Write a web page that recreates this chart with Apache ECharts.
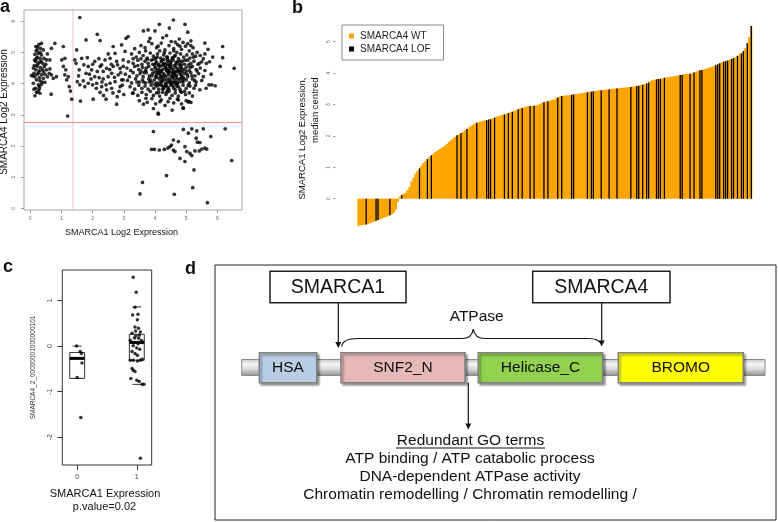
<!DOCTYPE html>
<html>
<head>
<meta charset="utf-8">
<script src="https://cdn.jsdelivr.net/npm/echarts@6/dist/echarts.min.js"></script>
<style>
html,body{margin:0;padding:0;background:#fff;}
#chart{width:778px;height:522px;}
</style>
</head>
<body>
<div id="chart"></div>
<script>
// ---------- Panel a: SMARCA1 vs SMARCA4 log2 expression ----------
const aTicks = [0, 1, 2, 3, 4, 5, 6];
const aXRange = [-0.2, 6.79];
const aYRange = [-0.055, 6.36];
const aVLine = 1.37;
const aHLine = 2.75;
const aLeftCluster = [[0.18,5.19],[0.28,5.26],[0.36,5.29],[0.33,5.13],[0.22,5.08],[0.42,5.08],[0.15,4.94],[0.26,4.97],[0.36,4.92],[0.31,4.81],[0.20,4.81],[0.44,4.81],[0.52,4.76],[0.63,4.76],[0.18,4.71],[0.29,4.68],[0.40,4.65],[0.50,4.62],[0.13,4.58],[0.22,4.55],[0.33,4.51],[0.18,4.44],[0.29,4.41],[0.40,4.44],[0.52,4.44],[0.63,4.47],[0.12,4.33],[0.22,4.30],[0.36,4.28],[0.47,4.30],[0.04,4.26],[0.15,4.22],[0.29,4.19],[0.42,4.17],[0.55,4.22],[0.68,4.28],[0.20,4.12],[0.31,4.09],[0.10,4.01],[0.26,3.96],[0.36,3.98],[0.47,4.04],[0.18,3.85],[0.29,3.83],[0.12,3.82],[0.20,3.72],[0.31,3.69],[0.15,3.61],[0.67,3.66],[0.79,5.29],[0.68,5.13],[0.84,4.22],[0.61,4.33],[0.74,4.17],[0.24,4.62],[0.35,4.72],[0.10,4.50],[0.27,4.35],[0.38,4.05],[0.22,4.85],[0.32,5.00],[0.14,4.75],[0.45,4.55],[0.30,3.90],[0.25,3.75],[0.42,4.38],[0.19,5.05],[0.08,4.25],[0.55,4.95],[0.24,5.18]];
const aMidSparse = [[1.06,5.19],[1.01,4.76],[1.11,4.81],[1.06,4.55],[1.14,4.44],[1.11,4.28],[1.22,4.22],[1.17,4.12],[1.25,3.90],[1.29,3.76],[1.33,3.50],[1.20,2.96],
[1.59,6.12],[1.43,4.76],[1.49,5.08],[1.47,4.65],[1.65,4.81],[1.79,5.40],[1.83,4.83],[1.72,4.60],[1.86,4.55],[1.57,4.44],[1.79,4.33],[1.97,4.44],[1.51,4.06],[1.70,4.09],[1.86,4.01],[1.59,3.96],[1.75,3.90],[2.00,3.96],[1.61,3.44],[2.02,3.50],[2.15,5.58],[2.24,5.38],[2.07,4.71],[2.24,4.55],[2.15,4.39],[2.29,4.60],[2.40,4.76],[2.34,4.39],[2.45,4.49],[2.07,4.22],[2.21,4.19],[2.34,4.15],[2.50,4.22],[2.61,4.33],[2.13,4.01],[2.29,3.90],[2.43,3.96],[2.56,4.01],[2.72,4.06],[2.24,3.72],[2.45,3.80],[2.61,3.85],[2.43,3.50],[2.77,3.34],[2.79,3.58],[2.88,3.90],[2.93,4.12],[2.82,4.28],[2.88,4.49],[2.98,4.76],[3.04,5.03],[2.93,5.24],[3.07,5.45],[3.14,5.51],[2.66,5.19],[2.72,4.97],[2.56,4.81],[2.77,4.71],[2.66,4.55],[1.90,4.30],[2.30,4.05],[2.55,4.45],[2.00,4.62],[1.55,4.25],[2.65,3.70],[2.35,3.62],[2.85,3.75],[2.50,4.95],[2.20,4.80],[2.95,3.95],[2.90,4.35],[2.70,4.20],[1.95,4.15],[2.12,3.85],[2.80,4.60],[2.98,4.55],[3.00,3.65],[2.60,4.62]];
const aMainCloud = [[3.35,5.12],[3.55,5.22],[3.70,5.05],[3.90,5.28],[4.05,5.15],[4.20,5.30],[4.32,5.08],[4.45,5.22],[4.60,5.12],[4.72,5.25],[4.85,5.10],[4.98,5.20],[5.10,5.05],[5.22,5.15],[5.35,5.00],[4.52,5.35],[4.90,5.32],[3.80,5.35],[4.15,5.05],[5.05,5.28],
[3.25,4.95],[3.40,4.85],[3.50,5.00],[3.62,4.90],[3.75,4.82],[3.85,4.98],[3.95,4.88],[4.08,4.95],[4.18,4.82],[4.28,4.92],[4.38,4.85],[4.48,4.98],[4.55,4.82],[4.65,4.90],[4.75,4.80],[4.82,4.95],[4.92,4.85],[5.02,4.92],[5.12,4.82],[5.20,4.95],[5.30,4.88],[5.45,4.90],[5.55,4.80],[4.02,4.80],[4.70,5.00],[4.40,4.78],[3.30,4.80],[5.60,4.95],
[3.15,4.70],[3.30,4.65],[3.45,4.75],[3.58,4.62],[3.68,4.72],[3.78,4.65],[3.88,4.75],[3.98,4.60],[4.05,4.70],[4.12,4.62],[4.22,4.75],[4.30,4.65],[4.40,4.72],[4.50,4.62],[4.58,4.75],[4.68,4.68],[4.78,4.60],[4.88,4.72],[4.95,4.62],[5.05,4.75],[5.15,4.65],[5.25,4.72],[5.38,4.62],[5.50,4.70],[5.65,4.65],[4.35,4.60],[4.62,4.58],[3.95,4.78],
[3.10,4.50],[3.22,4.42],[3.35,4.55],[3.48,4.45],[3.60,4.52],[3.70,4.42],[3.80,4.55],[3.90,4.45],[4.00,4.52],[4.08,4.42],[4.16,4.55],[4.25,4.45],[4.33,4.52],[4.42,4.42],[4.50,4.55],[4.58,4.45],[4.66,4.52],[4.75,4.42],[4.83,4.55],[4.92,4.45],[5.00,4.52],[5.10,4.42],[5.20,4.55],[5.32,4.45],[5.45,4.50],[5.60,4.42],[4.20,4.40],[4.45,4.58],[4.70,4.40],[3.55,4.40],
[3.05,4.30],[3.18,4.22],[3.30,4.35],[3.42,4.25],[3.52,4.32],[3.62,4.22],[3.72,4.35],[3.82,4.25],[3.92,4.32],[4.02,4.22],[4.10,4.35],[4.18,4.25],[4.27,4.32],[4.35,4.22],[4.44,4.35],[4.52,4.25],[4.60,4.32],[4.68,4.22],[4.77,4.35],[4.85,4.25],[4.95,4.32],[5.05,4.22],[5.15,4.35],[5.28,4.25],[5.40,4.32],[5.55,4.22],[4.40,4.38],[4.65,4.38],[3.98,4.38],[4.90,4.20],
[3.12,4.10],[3.25,4.02],[3.38,4.15],[3.50,4.05],[3.60,4.12],[3.70,4.02],[3.80,4.15],[3.90,4.05],[3.98,4.12],[4.06,4.02],[4.14,4.15],[4.22,4.05],[4.30,4.12],[4.38,4.02],[4.46,4.15],[4.55,4.05],[4.63,4.12],[4.72,4.02],[4.80,4.15],[4.90,4.05],[5.00,4.12],[5.10,4.02],[5.20,4.15],[5.32,4.05],[5.50,4.10],[4.25,4.18],[4.50,4.00],[4.85,4.18],
[3.35,3.82],[3.48,3.95],[3.58,3.85],[3.68,3.92],[3.78,3.82],[3.88,3.95],[3.96,3.85],[4.04,3.92],[4.12,3.82],[4.20,3.95],[4.28,3.85],[4.36,3.92],[4.44,3.82],[4.52,3.95],[4.60,3.85],[4.70,3.92],[4.80,3.82],[4.90,3.95],[5.00,3.85],[5.12,3.92],[5.25,3.85],[4.15,3.98],[4.65,3.80],
[3.30,3.70],[3.45,3.62],[3.58,3.72],[3.72,3.65],[3.85,3.75],[3.95,3.62],[4.05,3.70],[4.15,3.60],[4.25,3.72],[4.35,3.65],[4.45,3.75],[4.55,3.62],[4.65,3.70],[4.75,3.60],[4.85,3.72],[4.98,3.65],[5.10,3.70],[5.20,3.60],[4.40,3.78],
[3.50,3.45],[3.75,3.40],[3.90,3.52],[4.02,3.35],[4.20,3.48],[4.32,3.30],[4.42,3.42],[4.60,3.38],[4.72,3.50],[4.85,3.35],[5.00,3.45],[5.15,3.40],[3.95,3.20],[4.55,3.15],[4.10,3.05],[4.90,3.22],[5.08,3.42],
[4.03,4.48],[4.11,4.58],[4.19,4.38],[4.27,4.62],[4.36,4.48],[4.43,4.28],[4.51,4.68],[4.59,4.36],[4.67,4.62],[4.74,4.48],[4.82,4.30],[4.06,4.20],[4.14,4.32],[4.23,4.10],[4.31,4.27],[4.39,4.12],[4.47,4.40],[4.56,4.18],[4.64,4.30],[4.72,4.14],[4.81,4.42],[4.88,4.08],[4.09,3.95],[4.17,4.05],[4.26,3.90],[4.34,4.00],[4.42,3.88],[4.50,4.08],[4.58,3.92],[4.66,4.03],[4.75,3.90],[4.02,4.65],[4.20,4.70],[4.40,4.85],[4.62,4.88],[4.80,4.72],[3.90,4.25],[3.82,4.05],[5.00,4.40],[5.08,4.60],
[3.45,4.58],[3.65,4.35],[3.75,4.78],[3.85,4.12],[3.93,4.62],[4.00,3.98],[4.07,4.85],[4.13,4.45],[4.21,4.22],[4.28,4.78],[4.33,3.95],[4.37,4.42],[4.41,4.62],[4.46,4.05],[4.53,4.50],[4.57,4.82],[4.61,4.02],[4.69,4.25],[4.73,4.70],[4.78,4.05],[4.84,4.62],[4.87,4.38],[4.93,4.15],[4.97,4.75],[5.03,4.30],[5.07,3.95],[5.13,4.52],[5.18,4.25],[5.23,4.85],[5.27,4.10],[5.35,4.40],[5.42,4.65],[4.05,4.30],[4.45,4.48],[4.25,3.82],[4.55,4.35],[4.70,3.98],[3.72,4.50],[3.63,4.05],[4.95,3.75],[4.38,3.72],[4.12,3.72],[4.82,3.75],[3.55,4.80],[3.42,4.05],[5.30,3.95],[4.60,5.05],[4.30,5.00],[4.10,5.20],[4.80,5.20],[3.68,5.15],[5.15,5.22],[4.48,4.72],[4.25,4.58],[4.85,4.50],[4.58,4.22]];
const aOutliers = [[4.59,6.04],[4.96,5.90],[4.14,5.90],[4.46,5.78],[3.63,5.69],[3.78,5.72],[4.00,5.69],[5.05,5.65],[4.25,5.47],[4.37,5.54],[3.84,5.45],[4.78,5.43],[5.15,5.37],[4.65,5.33],
[4.11,3.02],[3.63,3.34],[3.71,3.53],[4.91,3.21],[5.07,3.42],[4.48,3.53],[4.16,3.42],[4.75,3.48],[3.28,3.69],[3.20,3.90],[2.98,4.12],
[6.17,5.19],[6.17,4.83],[6.09,4.55],[6.54,4.49],[5.73,3.96],[5.82,3.96],[5.93,3.93],[5.64,3.85],[5.44,3.80],[5.75,4.70],[5.80,4.30],[5.70,5.10],[5.60,5.30],[5.85,4.85]];
const aLowCluster = [[3.95,2.46],[4.91,2.53],[5.07,2.41],[5.18,2.55],[5.34,2.48],[5.55,2.55],[5.79,2.30],[6.25,2.55],[4.59,2.19],[4.75,2.14],[5.32,2.25],[5.36,2.12],[5.44,2.11],[3.89,1.89],[3.98,1.89],[4.14,1.87],[4.30,1.89],[4.41,1.93],[4.48,1.98],[4.53,2.03],[4.59,1.87],[4.64,1.82],[4.96,1.98],[5.02,1.82],[5.12,1.76],[5.18,1.69],[5.28,1.84],[5.42,1.84],[5.50,1.90],[5.60,1.93],[5.66,1.90],[4.80,1.60],[4.96,1.50],[6.46,1.53],[5.25,1.23],[4.37,1.05],[3.60,0.83],[5.21,0.66],[3.52,0.46],[4.62,0.45],[5.68,0.18]];

// ---------- Panel b: waterfall of SMARCA1 expression ----------
const bValues = [-0.87,-0.85,-0.84,-0.83,-0.82,-0.80,-0.78,-0.75,-0.73,-0.70,-0.68,-0.66,-0.63,-0.60,-0.58,-0.56,-0.53,-0.50,-0.45,-0.35,-0.10,
0.06,0.12,0.16,0.19,0.28,0.38,0.55,0.67,0.80,0.88,0.96,1.05,1.14,1.20,1.26,1.33,1.38,1.43,1.49,1.53,
1.57,1.61,1.65,1.70,1.75,1.81,1.87,1.92,1.97,2.02,2.05,2.09,2.13,2.18,2.22,2.27,2.31,2.35,2.39,2.42,
2.44,2.46,2.48,2.49,2.50,2.52,2.53,2.56,2.58,2.61,2.63,2.65,2.67,2.68,2.70,2.73,2.75,2.77,2.80,2.82,
2.85,2.88,2.89,2.91,2.93,2.94,2.95,2.95,2.96,2.97,2.99,3.02,3.05,3.07,3.09,3.10,3.12,3.14,3.16,3.19,
3.22,3.25,3.27,3.28,3.29,3.29,3.30,3.31,3.32,3.33,3.34,3.35,3.36,3.37,3.38,3.39,3.40,3.41,3.42,3.43,
3.44,3.45,3.45,3.46,3.47,3.48,3.48,3.49,3.50,3.51,3.51,3.52,3.53,3.53,3.54,3.55,3.55,3.56,3.57,3.58,
3.59,3.60,3.62,3.63,3.65,3.67,3.70,3.74,3.78,3.79,3.80,3.81,3.82,3.83,3.85,3.86,3.87,3.88,3.89,3.90,
3.91,3.93,3.94,3.95,3.96,3.97,3.97,3.98,3.99,4.02,4.04,4.07,4.09,4.10,4.12,4.14,4.16,4.18,4.20,4.22,
4.25,4.28,4.31,4.34,4.36,4.38,4.40,4.42,4.45,4.48,4.50,4.55,4.60,4.63,4.70,4.79,4.95,5.15,5.50];
const bLofIndex = [4,9,10,16,22,31,35,37,50,52,55,60,65,66,67,69,74,76,78,81,83,87,89,94,96,101,103,108,109,116,118,119,123,127,131,138,141,142,144,146,147,151,152,153,155,163,164,168,170,173,174,181,182,183,185,186,187,189,190,192,194,195,197,199];
const bTicks = [0, 1, 2, 3, 4, 5];
const bNames = ['SMARCA4 WT', 'SMARCA4 LOF'];

// ---------- Panel c: boxplot ----------
const cTicksX = [0, 1];
const cTicksY = [-2, -1, 0, 1];
const cGroup0 = [[-0.01,0.00],[0.05,-0.12],[0.07,-0.16],[0.08,-0.37],[0.00,-0.69],[0.06,-1.57]];
const cGroup1 = [[0.94,1.51],[0.99,1.18],[0.97,0.85],[0.93,0.68],[1.02,0.70],[1.01,0.58],[0.97,0.42],[1.03,0.39],[1.06,0.31],[0.92,0.28],[0.98,0.33],[1.04,0.24],[0.96,0.18],[1.03,0.17],[0.89,0.13],[1.08,0.12],[0.93,0.08],[1.09,0.08],[0.94,0.01],[1.00,-0.04],[1.05,-0.07],[0.92,-0.12],[0.97,-0.16],[1.01,-0.20],[0.89,-0.31],[0.94,-0.31],[1.01,-0.33],[1.06,-0.31],[1.09,-0.29],[0.92,-0.49],[0.94,-0.53],[0.97,-0.56],[0.90,-0.71],[1.00,-0.75],[1.04,-0.78],[1.09,-0.84],[1.12,-0.84],[1.06,-2.46],[0.98,0.22],[1.02,0.05]];
const boxX = [0, 1];
const boxQ1 = [-0.71, -0.31];
const boxMedian = [-0.27, 0.08];
const boxQ3 = [-0.14, 0.26];
const boxLow = [-0.71, -0.84];
const boxHigh = [0.00, 0.86];

// ---------- build ----------
const FONT = '"Liberation Sans", Arial, Helvetica, sans-serif';
const chart = echarts.init(document.getElementById('chart'), null, {renderer: 'canvas'});
const bCats = bValues.map((v, i) => String(i));
const lofSet = new Set(bLofIndex);
const bLof = bValues.map((v, i) => lofSet.has(i) ? v : '-');
const boxRows = boxX.map((x, i) => [x, boxQ1[i], boxMedian[i], boxQ3[i], boxLow[i], boxHigh[i]]);
const BOX_HALF = 0.125, STAPLE_HALF = 0.075;

function txt(text, x, y, size, opts) {
  opts = opts || {};
  return {
    type: 'text', x: x, y: y, rotation: opts.rot || 0, silent: true,
    style: {
      text: text, x: 0, y: 0, fill: opts.color || '#111',
      fontSize: size, fontFamily: FONT, fontWeight: opts.weight || 'normal',
      textAlign: opts.align || 'center', textVerticalAlign: opts.valign || 'middle',
      align: opts.align || 'center', verticalAlign: opts.valign || 'middle'
    }
  };
}
function ln(x1, y1, x2, y2, w, c) {
  return {type: 'line', silent: true, shape: {x1: x1, y1: y1, x2: x2, y2: y2}, style: {stroke: c || '#111', lineWidth: w || 1}};
}
function head(x, yTip) {
  return {type: 'polygon', silent: true, shape: {points: [[x - 3, yTip - 6], [x + 3, yTip - 6], [x, yTip]]}, style: {fill: '#111'}};
}
function domain(x, w, fill, label) {
  return [
    {type: 'rect', silent: true, shape: {x: x, y: 352.7, width: w, height: 30},
     style: {fill: fill, stroke: '#808080', lineWidth: 1.5, shadowBlur: 2, shadowOffsetX: 2, shadowOffsetY: 2, shadowColor: 'rgba(0,0,0,0.35)'}},
    txt(label, x + w / 2, 368, 15.5)
  ];
}
function bez(x1, y1, x2, y2, cx, cy) {
  return {type: 'bezierCurve', silent: true, shape: {x1: x1, y1: y1, x2: x2, y2: y2, cpx1: cx, cpy1: cy}, style: {stroke: '#111', lineWidth: 1.2, fill: null}};
}

const rodFill = new echarts.graphic.LinearGradient(0, 0, 0, 1, [
  {offset: 0, color: '#c4c4c4'}, {offset: 0.3, color: '#f7f7f7'}, {offset: 0.6, color: '#d9d9d9'}, {offset: 1, color: '#8e8e8e'}
]);

const graphics = [
  txt('a', 0, 7, 18, {align: 'left', weight: 'bold'}),
  txt('b', 292, 8, 18, {align: 'left', weight: 'bold'}),
  txt('c', 3, 267, 18, {align: 'left', weight: 'bold'}),
  txt('d', 185, 269, 18, {align: 'left', weight: 'bold'}),
  txt('SMARCA1 Log2 Expression', 121.5, 233, 9),
  txt('SMARCA4 Log2 Expression', 4.5, 112, 10, {rot: Math.PI / 2}),
  txt('SMARCA1 Log2 Expression,', 302, 77.5, 9.5, {rot: Math.PI / 2, align: 'right'}),
  txt('median centred', 315, 77.5, 9.5, {rot: Math.PI / 2, align: 'right'}),
  txt('SMARCA1 Expression', 105, 493.5, 11),
  txt('p.value=0.02', 104.5, 506.5, 11),
  txt('SMARCA4_2_00000001000000101', 33.3, 367.5, 6.5, {rot: Math.PI / 2, color: '#333'}),
  {type: 'rect', silent: true, shape: {x: 215, y: 265, width: 561, height: 255}, style: {fill: null, stroke: '#222', lineWidth: 1}},
  {type: 'rect', silent: true, shape: {x: 270, y: 271.3, width: 136, height: 31.4}, style: {fill: '#fff', stroke: '#222', lineWidth: 1.5}},
  txt('SMARCA1', 338, 287.5, 19.5),
  {type: 'rect', silent: true, shape: {x: 532.7, y: 271.3, width: 137.3, height: 31.4}, style: {fill: '#fff', stroke: '#222', lineWidth: 1.5}},
  txt('SMARCA4', 601.3, 287.5, 19.5),
  ln(338.3, 302.7, 338.3, 343, 1.2), head(338.3, 348),
  ln(601.7, 302.7, 601.7, 341, 1.2), head(601.7, 346.5),
  txt('ATPase', 476.7, 317, 15.5),
  bez(341.7, 346.5, 358, 338.5, 342.5, 338.5),
  ln(358, 338.5, 462, 338.5, 1.2),
  bez(462, 338.5, 473.3, 329, 472, 338.5),
  bez(473.3, 329, 485, 338.5, 474.6, 338.5),
  ln(485, 338.5, 588, 338.5, 1.2),
  bez(588, 338.5, 601.7, 344.5, 599, 338.5),
  {type: 'rect', silent: true, shape: {x: 241.7, y: 359.5, width: 523.3, height: 16}, style: {fill: rodFill, stroke: '#8a8a8a', lineWidth: 1}},
  ...domain(259.3, 57.4, '#b9cde5', 'HSA'),
  ...domain(341, 124, '#e6b9b8', 'SNF2_N'),
  ...domain(478.3, 124.4, '#92d050', 'Helicase_C'),
  ...domain(618.3, 125, '#ffff00', 'BROMO'),
  ln(468.3, 382.7, 468.3, 424, 1.2), head(468.3, 429.5),
  txt('Redundant GO terms', 470.5, 440.5, 15.5),
  ln(396, 448, 545, 448, 1),
  txt('ATP binding / ATP catabolic process', 470, 458.7, 15.5),
  txt('DNA-dependent ATPase activity', 470, 476.7, 15.5),
  txt('Chromatin remodelling / Chromatin remodelling /', 470, 494.5, 15.5)
];

const option = {
  animation: false,
  backgroundColor: '#fff',
  textStyle: {fontFamily: FONT},
  grid: [
    {left: 24, top: 10, width: 218, height: 200, show: true, borderColor: '#a8a8a8', borderWidth: 1, backgroundColor: 'transparent'},
    {left: 357.3, top: 10.3, width: 395, height: 219.8},
    {left: 62.3, top: 270, width: 89.4, height: 195, show: true, borderColor: '#333', borderWidth: 1, backgroundColor: 'transparent'}
  ],
  legend: {
    data: bNames, left: 342, top: 25, orient: 'vertical', icon: 'rect',
    itemWidth: 5, itemHeight: 5, itemGap: 3, selectedMode: false,
    padding: [6, 13, 6, 7], borderColor: '#888', borderWidth: 1,
    textStyle: {fontSize: 10, color: '#222', fontFamily: FONT, padding: [0, 0, 0, 1]}
  },
  xAxis: [
    {gridIndex: 0, type: 'value', min: aXRange[0], max: aXRange[1], splitLine: {show: false}, axisLine: {show: false, onZero: false},
     axisTick: {show: true, length: 3, customValues: aTicks, lineStyle: {color: '#999'}},
     axisLabel: {customValues: aTicks, fontSize: 5, color: '#666', margin: 6}},
    {gridIndex: 1, type: 'category', data: bCats, show: false},
    {gridIndex: 1, type: 'category', data: bCats, show: false},
    {gridIndex: 2, type: 'value', min: -0.25, max: 1.25, splitLine: {show: false}, axisLine: {show: false, onZero: false},
     axisTick: {show: true, length: 5, customValues: cTicksX, lineStyle: {color: '#333'}},
     axisLabel: {customValues: cTicksX, fontSize: 7, color: '#444', margin: 9}}
  ],
  yAxis: [
    {gridIndex: 0, type: 'value', min: aYRange[0], max: aYRange[1], splitLine: {show: false}, axisLine: {show: false, onZero: false},
     axisTick: {show: true, length: 3, customValues: aTicks, lineStyle: {color: '#999'}},
     axisLabel: {customValues: aTicks, fontSize: 5, color: '#666', margin: 8, rotate: 90}},
    {gridIndex: 1, type: 'value', min: -1, max: 6, offset: 22, splitLine: {show: false}, axisLine: {show: false, onZero: false},
     axisTick: {show: true, length: 2, customValues: bTicks, lineStyle: {color: '#888'}},
     axisLabel: {customValues: bTicks, fontSize: 5, color: '#666', margin: 4, rotate: 90}},
    {gridIndex: 2, type: 'value', min: -2.61, max: 1.67, splitLine: {show: false}, axisLine: {show: false, onZero: false},
     axisTick: {show: true, length: 5, customValues: cTicksY, lineStyle: {color: '#333'}},
     axisLabel: {customValues: cTicksY, fontSize: 7, color: '#444', margin: 9, rotate: 90}}
  ],
  series: [
    {type: 'line', xAxisIndex: 0, yAxisIndex: 0, silent: true, symbol: 'none', z: 1,
     data: [[aVLine, aYRange[0]], [aVLine, aYRange[1]]],
     lineStyle: {color: '#f2c4c4', width: 1}},
    {type: 'line', xAxisIndex: 0, yAxisIndex: 0, silent: true, symbol: 'none', z: 1,
     data: [[aXRange[0], aHLine], [aXRange[1], aHLine]],
     lineStyle: {color: '#f08c8c', width: 1}},
    {type: 'scatter', xAxisIndex: 0, yAxisIndex: 0, symbolSize: 3.7, silent: true, z: 3,
     itemStyle: {color: '#000'},
     data: aLeftCluster.concat(aMidSparse, aMainCloud, aOutliers, aLowCluster)},
    {name: bNames[0], type: 'bar', xAxisIndex: 1, yAxisIndex: 1, data: bValues, barWidth: 2.4,
     itemStyle: {color: '#FFA500'}, silent: true},
    {name: bNames[1], type: 'bar', xAxisIndex: 2, yAxisIndex: 1, data: bLof, barWidth: 1.3,
     itemStyle: {color: '#000'}, silent: true},
    {type: 'custom', xAxisIndex: 3, yAxisIndex: 2, data: boxRows, silent: true,
     encode: {x: 0, y: [1, 2, 3, 4, 5]},
     renderItem: function (params, api) {
       const x = api.value(0), q1 = api.value(1), med = api.value(2), q3 = api.value(3), lo = api.value(4), hi = api.value(5);
       const tl = api.coord([x - BOX_HALF, q3]), br = api.coord([x + BOX_HALF, q1]);
       const mL = api.coord([x - BOX_HALF, med]), mR = api.coord([x + BOX_HALF, med]);
       const hL = api.coord([x - STAPLE_HALF, hi]), hR = api.coord([x + STAPLE_HALF, hi]);
       const lL = api.coord([x - STAPLE_HALF, lo]), lR = api.coord([x + STAPLE_HALF, lo]);
       return {type: 'group', children: [
         {type: 'rect', shape: {x: tl[0], y: tl[1], width: br[0] - tl[0], height: br[1] - tl[1]}, style: {fill: 'none', stroke: '#333', lineWidth: 1}},
         {type: 'line', shape: {x1: mL[0], y1: mL[1], x2: mR[0], y2: mR[1]}, style: {stroke: '#000', lineWidth: 3}},
         {type: 'line', shape: {x1: hL[0], y1: hL[1], x2: hR[0], y2: hR[1]}, style: {stroke: '#333', lineWidth: 1}},
         {type: 'line', shape: {x1: lL[0], y1: lL[1], x2: lR[0], y2: lR[1]}, style: {stroke: '#333', lineWidth: 1}}
       ]};
     }},
    {type: 'scatter', xAxisIndex: 3, yAxisIndex: 2, symbolSize: 3.5, silent: true,
     itemStyle: {color: '#000'}, data: cGroup0.concat(cGroup1), z: 5}
  ],
  graphic: {elements: graphics}
};
chart.setOption(option);
</script>
</body>
</html>
